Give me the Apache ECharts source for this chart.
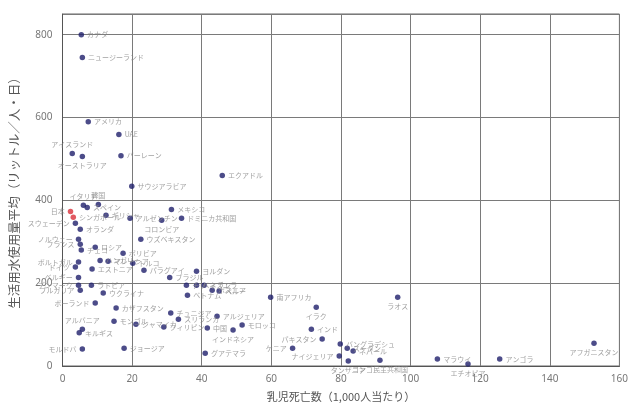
<!DOCTYPE html>
<html>
<head>
<meta charset="utf-8">
<script src="https://cdn.jsdelivr.net/npm/echarts@6.0.0/dist/echarts.min.js"></script>
<style>
  html, body { margin: 0; padding: 0; background: #fff; }
  #chart { width: 631px; height: 407px; }
</style>
</head>
<body>
<div id="chart"></div>
<script>
// Infant mortality (per 1,000) vs domestic water use (L / person / day)
const countries = [
    'カナダ', 'ニュージーランド', 'アメリカ', 'UAE', 'アイスランド', 'オーストラリア', 'バーレーン', 'サウジアラビア', 'エクアドル',
    'イタリア', 'スペイン', '韓国', 'ギリシャ', 'アルゼンチン', 'メキシコ', 'コロンビア', 'ドミニカ共和国',
    '日本', 'シンガポール', 'スウェーデン', 'オランダ', 'ノルウェー', 'フランス', 'チェコ', 'ロシア', 'ボリビア', 'ウズベキスタン',
    'ポルトガル', 'ハンガリー', 'マレーシア', 'トルコ', 'ドイツ', 'エストニア', 'パラグアイ', 'ブラジル', 'ヨルダン',
    'ベルギー', 'デンマーク', 'ブルガリア', 'ラトビア', 'ウクライナ', 'ポーランド', 'カザフスタン', 'モンゴル', 'ジャマイカ',
    'アルバニア', 'キルギス', 'モルドバ', 'ジョージア',
    'チリ', 'ベネズエラ', 'イラン', 'ボスニア', 'ペルー', 'ベトナム', 'チュニジア', 'スリランカ', 'フィリピン',
    'アルジェリア', '中国', 'インドネシア', 'モロッコ', 'グアテマラ',
    '南アフリカ', 'イラク', 'インド', 'パキスタン', 'ケニア', 'バングラデシュ', 'スーダン', 'ネパール', 'ナイジェリア',
    'タンザニア', 'コンゴ民主共和国', 'ラオス', 'マラウイ', 'エチオピア', 'アンゴラ', 'アフガニスタン'
];
const infantMortality = [
    5.4, 5.7, 7.4, 16.2, 2.8, 5.7, 16.8, 19.9, 45.9,
    6.0, 7.1, 10.3, 12.5, 19.4, 31.3, 28.5, 34.2,
    2.3, 3.1, 3.7, 5.1, 4.6, 5.1, 5.4, 9.4, 17.4, 22.5,
    4.6, 10.8, 13.1, 20.2, 3.7, 8.5, 23.4, 30.8, 38.5,
    4.6, 4.6, 5.1, 8.3, 11.7, 9.4, 15.4, 14.8, 21.1,
    5.7, 4.8, 5.7, 17.7,
    35.6, 38.5, 40.7, 43.0, 45.0, 35.9, 31.1, 33.3, 29.1,
    44.4, 41.6, 49.0, 51.6, 41.0,
    59.8, 72.9, 71.5, 74.6, 66.1, 79.8, 81.8, 83.5, 79.5,
    82.1, 91.2, 96.3, 107.7, 116.5, 125.6, 152.7
];
const waterUse = [
    800, 745, 590, 559, 513, 506, 508, 434, 460,
    388, 383, 390, 364, 357, 378, 352, 357,
    373, 359, 345, 330, 306, 294, 280, 287, 272, 306,
    251, 255, 253, 248, 239, 234, 231, 214, 229,
    214, 195, 183, 195, 176, 152, 140, 108, 101,
    89, 80, 41, 43,
    195, 195, 195, 183, 181, 171, 128, 113, 94,
    120, 92, 87, 99, 31,
    166, 142, 89, 65, 43, 53, 43, 36, 24,
    12, 14, 166, 17, 5, 17, 55
];
const highlighted = ['日本', 'シンガポール'];

const xTicks = [0, 20, 40, 60, 80, 100, 120, 140, 160];
const yTicks = [0, 200, 400, 600, 800];

// label sides (default: right)
const labelLeft = ['日本', 'スウェーデン', 'ノルウェー', 'フランス', 'ポルトガル', 'ドイツ', 'ベルギー', 'デンマーク',
    'ブルガリア', 'ポーランド', 'モルドバ', 'パキスタン', 'ケニア', 'ナイジェリア'];
const labelTop = ['アイスランド', 'イタリア', '韓国', 'アルバニア'];
const labelBottom = ['オーストラリア', 'コロンビア', 'インドネシア', 'イラク', 'タンザニア', 'コンゴ民主共和国',
    'ラオス', 'エチオピア', 'アフガニスタン'];

function sideOf(name) {
    if (labelLeft.includes(name)) return 'left';
    if (labelTop.includes(name)) return 'top';
    if (labelBottom.includes(name)) return 'bottom';
    return 'right';
}

const points = countries.map((name, i) => ({
    name,
    value: [infantMortality[i], waterUse[i]],
    itemStyle: { color: highlighted.includes(name) ? '#d9303a' : '#1f1f6c' },
    label: { position: sideOf(name) }
}));

const chart = echarts.init(document.getElementById('chart'));
chart.setOption({
    animation: false,
    grid: { left: 62, right: 6, top: 14, bottom: 41, show: true, borderColor: '#666', borderWidth: 1 },
    xAxis: {
        type: 'value',
        min: xTicks[0],
        max: xTicks[xTicks.length - 1],
        interval: 20,
        name: '乳児死亡数（1,000人当たり）',
        nameLocation: 'middle',
        nameGap: 25,
        nameTextStyle: { color: '#555', fontSize: 11, fontFamily: 'Noto Sans CJK JP' },
        axisLine: { lineStyle: { color: '#555' } },
        axisTick: { show: false },
        axisLabel: { color: '#777', fontSize: 10, margin: 8, fontFamily: 'Noto Sans' },
        splitLine: { lineStyle: { color: '#7a7a7a', width: 1 } }
    },
    yAxis: {
        type: 'value',
        min: yTicks[0],
        max: 850,
        interval: 200,
        name: '生活用水使用量平均（リットル／人・日）',
        nameLocation: 'middle',
        nameRotate: 90,
        nameGap: 42,
        nameTextStyle: { color: '#555', fontSize: 12.5, fontFamily: 'Noto Sans CJK JP' },
        axisLine: { show: true, lineStyle: { color: '#555' } },
        axisTick: { show: false },
        axisLabel: {
            color: '#777', fontSize: 10, margin: 10, fontFamily: 'Noto Sans',
            formatter: v => (yTicks.includes(v) ? String(v) : '')
        },
        splitLine: { lineStyle: { color: '#7a7a7a', width: 1 } }
    },
    series: [{
        type: 'scatter',
        symbolSize: 5.5,
        data: points,
        label: {
            show: true,
            formatter: '{b}',
            color: '#888',
            fontSize: 7,
            distance: 3,
            fontFamily: 'Noto Sans CJK JP'
        },
        z: 3
    }]
});
</script>
</body>
</html>
